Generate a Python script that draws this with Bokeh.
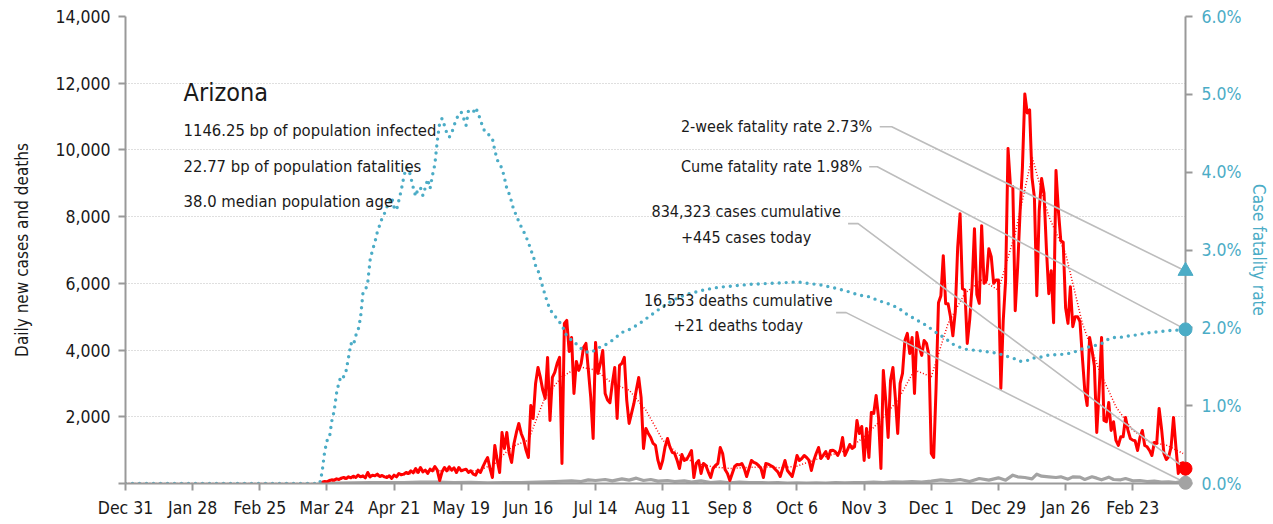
import pandas as pd
from bokeh.plotting import figure
from bokeh.models import (Range1d, LinearAxis, FixedTicker, NumeralTickFormatter,
                          PrintfTickFormatter, Label)
from bokeh.embed import file_html
from bokeh.resources import INLINE

START = pd.Timestamp("2019-12-31")


def day(n):
    return (START + pd.Timedelta(days=float(n))).to_pydatetime()


# ---------------- data ----------------
STATE = "Arizona"
CASES_FIRST_DAY = 81  # days after 2019-12-31 (Mar 21, 2020)
daily_cases = [
    30, 40, 60, 50, 90, 110, 100, 140, 120, 160, 180, 150, 200, 170, 220, 180, 250, 200, 230, 170,
    330, 200, 250, 230, 280, 210, 240, 200, 180, 230, 150, 250, 200, 300, 260, 280, 330, 300, 380, 320,
    450, 330, 480, 350, 400, 300, 430, 380, 510, 400, 90, 350, 480, 380, 500, 400, 470, 330, 480, 380,
    410, 430, 330, 380, 280, 250, 400,
    330, 500, 650, 780, 450, 180, 1140, 700, 330, 1530, 1050, 1530, 900, 630, 1200, 1530, 1800, 1500,
    1320, 1000, 780, 2340, 1950, 3000, 3480, 3180, 2800, 2550, 3780, 1890, 3180, 3330, 3600, 3780,
    600, 4800, 4890, 3960, 4380, 2700, 3660, 3390, 3600, 4080, 4200, 3400, 2580, 1350, 4230, 3300,
    3600, 3990, 2700, 2500, 2420, 3000, 3480, 1950, 3540, 3600, 3780, 2500, 1800, 2100, 2400, 2800,
    3180, 2580, 1050, 1650, 1500, 1380, 1200, 1140, 700, 450,
    690, 1100, 1350, 1100, 930, 900, 700, 450, 870, 690, 720, 850, 990, 180, 600, 690, 300, 600, 540,
    350, 180, 450, 540, 600, 1080, 900, 420, 300, 90, 300, 510, 570, 560, 600, 450, 210, 450, 690,
    630, 600, 540, 450, 180, 600, 580, 540, 500, 420, 350, 210, 450, 690, 390, 300, 210, 500, 840,
    690, 750, 840, 780, 700, 390, 690, 900, 1080, 750, 850, 960, 750, 990, 1000, 950, 840, 1000, 1380,
    840, 1000, 1170, 1050,
    1100, 1890, 1500, 1710, 690, 1650, 780, 2130, 2100, 2640, 1980, 450, 3390, 2490, 1380, 3090, 3480,
    2580, 1500, 3000, 3300, 4290, 4500, 3900, 4380, 2700, 4530, 4110, 3840, 4290, 4200, 3840, 900,
    780, 2880, 5420, 5630, 6830, 5390, 5390, 5000, 4430, 5150, 7070, 8090, 5840, 5800, 4200, 4900,
    5900, 7640, 5660, 5400, 7730, 6000, 6100, 7040, 6800, 6000, 6100, 6100, 2850, 4880, 6100, 10040,
    8930, 8900, 5180, 6470, 8100, 9470, 11680, 11110, 11200, 9170, 8570, 5630, 8180, 9140, 8700, 7040,
    5690, 6380, 4820, 9380, 8180, 7280, 7230, 5270, 4800, 5900, 4700, 5000, 5000, 4850, 3780, 2790,
    2340, 4380, 4000, 3530, 1530, 2790, 4380, 1890, 1850, 2430, 1590, 1850, 1290, 1140, 1400, 1400,
    1980, 1600, 1350, 1300, 1280, 990, 1380, 1590, 1140, 1100, 990, 840, 1230, 1200, 2250, 1650, 900,
    720, 800, 1100, 1980, 1100, 300, 600, 620, 445,
]

avg_days = [0, 81, 84, 91, 98, 105, 112, 119, 126, 133, 140, 147, 154, 161, 168, 175, 182, 189, 196,
            203, 210, 217, 224, 231, 238, 245, 252, 259, 266, 273, 280, 287, 294, 301, 308, 315, 322,
            329, 336, 343, 350, 357, 364, 371, 378, 385, 392, 399, 406, 413, 420, 427, 434, 441]
avg_cases = [0, 0, 50, 140, 190, 230, 220, 300, 380, 380, 400, 380, 600, 1100, 1300, 2600, 3200, 3500,
             3400, 3000, 2800, 2200, 1300, 850, 600, 500, 450, 480, 500, 470, 520, 700, 850, 1000,
             1400, 1900, 2500, 3400, 3200, 4800, 5700, 6100, 5800, 7500, 9800, 8000, 6900, 4800, 3400,
             2300, 1600, 1250, 1150, 900]

death_days = [81, 88, 95, 102, 109, 116, 123, 130, 137, 144, 151, 158, 165, 172, 179, 186, 190, 193,
              196, 200, 203, 207, 210, 213, 216, 219, 222, 226, 229, 233, 236, 240, 244, 248, 252,
              256, 260, 264, 268, 272, 276, 280, 284, 288, 292, 296, 300, 304, 308, 312, 316, 320,
              324, 328, 332, 336, 340, 344, 348, 352, 356, 360, 364, 367, 370, 372, 375, 378, 380,
              382, 385, 388, 390, 393, 395, 398, 400, 403, 405, 407, 410, 412, 415, 417, 420, 423,
              426, 429, 432, 435, 438, 440, 442]
daily_deaths = [0, 10, 20, 25, 30, 30, 40, 40, 30, 35, 20, 25, 30, 40, 60, 80, 60, 110, 90, 120, 80,
                140, 100, 160, 90, 120, 70, 90, 60, 80, 40, 80, 30, 50, 20, 40, 25, 30, 20, 25, 15,
                20, 10, 20, 15, 25, 20, 30, 25, 40, 30, 50, 40, 60, 40, 70, 110, 80, 120, 60, 150,
                100, 170, 100, 250, 200, 180, 140, 280, 220, 200, 180, 200, 130, 200, 190, 120, 200,
                160, 110, 190, 120, 110, 150, 80, 90, 60, 70, 40, 50, 30, 60, 21]

cfr_days = [0, 81, 82, 83, 84, 85, 86, 87, 88, 89, 90, 91, 92, 93, 94, 95, 96, 97, 98, 99, 100, 101,
            102, 103, 104, 105, 106, 107, 108, 109, 110, 111, 112, 113, 114, 115, 116, 117, 118, 119,
            120, 121, 122, 123, 124, 125, 126, 127, 128, 129, 130, 131, 132, 133, 134, 135, 136, 137,
            138, 139, 140, 141, 142, 143, 144, 145, 146, 147, 148, 149, 150, 151, 152, 153, 154, 155,
            156, 157, 158, 159, 160, 161, 162, 163, 164, 165, 166, 167, 168, 169, 170, 171, 172, 173,
            174, 175, 176, 177, 178, 179, 180, 181, 182, 183, 184, 185, 187, 189, 191, 193, 195, 197,
            200, 203, 207, 211, 215, 219, 223, 228, 233, 240, 247, 254, 261, 268, 275, 280, 285, 290,
            296, 302, 306, 310, 314, 318, 322, 326, 330, 334, 338, 342, 345, 348, 351, 355, 360, 364,
            366, 369, 371, 373, 376, 378, 381, 385, 391, 395, 398, 401, 404, 406, 408, 410, 413, 416,
            419, 422, 425, 428, 431, 434, 437, 440, 442]
cfr_pct = [0, 0, 0.15, 0.40, 0.55, 0.58, 0.80, 0.93, 1.16, 1.30, 1.39, 1.37, 1.45, 1.62, 1.80, 1.77,
           1.90, 1.97, 2.13, 2.44, 2.48, 2.58, 2.87, 3.00, 3.10, 3.23, 3.32, 3.41, 3.47, 3.55, 3.62,
           3.68, 3.55, 3.51, 3.64, 3.77, 3.93, 4.06, 4.05, 3.93, 3.80, 3.69, 3.79, 3.80, 3.70, 3.80,
           3.91, 3.79, 3.96, 4.10, 4.40, 4.63, 4.69, 4.60, 4.50, 4.45, 4.50, 4.60, 4.68, 4.75, 4.77,
           4.69, 4.60, 4.79, 4.78, 4.77, 4.83, 4.76, 4.67, 4.58, 4.51, 4.49, 4.47, 4.43, 4.28, 4.16,
           4.10, 4.05, 3.93, 3.79, 3.72, 3.62, 3.50, 3.45, 3.36, 3.30, 3.24, 3.17, 3.10, 3.00, 2.93,
           2.80, 2.74, 2.63, 2.52, 2.42, 2.32, 2.24, 2.19, 2.16, 2.10, 2.07, 2.05, 1.95, 1.90, 1.86,
           1.83, 1.75, 1.72, 1.68, 1.70, 1.74, 1.78, 1.84, 1.94, 1.99, 2.07, 2.16, 2.25, 2.35, 2.42,
           2.48, 2.52, 2.54, 2.56, 2.57, 2.58, 2.59, 2.57, 2.55, 2.51, 2.46, 2.42, 2.40, 2.35, 2.31,
           2.26, 2.17, 2.10, 2.03, 1.94, 1.86, 1.79, 1.75, 1.72, 1.71, 1.69, 1.67, 1.65, 1.62, 1.60,
           1.57, 1.58, 1.61, 1.62, 1.65, 1.66, 1.68, 1.72, 1.75, 1.77, 1.79, 1.81, 1.86, 1.88, 1.88,
           1.90, 1.91, 1.93, 1.94, 1.95, 1.96, 1.97, 1.97, 1.98]

two_week_cfr = 2.73
cume_cfr = 1.98
cases_cumulative = "834,323"
cases_today = 445
deaths_cumulative = "16,553"
deaths_today = 21

info_lines = ["1146.25 bp of population infected",
              "22.77 bp of population fatalities",
              "38.0 median population age"]

x_tick_labels = ["Dec 31", "Jan 28", "Feb 25", "Mar 24", "Apr 21", "May 19", "Jun 16", "Jul 14",
                 "Aug 11", "Sep 8", "Oct 6", "Nov 3", "Dec 1", "Dec 29", "Jan 26", "Feb 23"]
x_tick_days = [0, 28, 56, 84, 112, 140, 168, 196, 224, 252, 280, 308, 336, 364, 392, 420]
y_ticks = [0, 2000, 4000, 6000, 8000, 10000, 12000, 14000]
cfr_ticks = [0, 1, 2, 3, 4, 5, 6]

# ---------------- styling ----------------
FONT = "'DejaVu Sans Condensed', 'Liberation Sans Narrow', sans-serif"
RED = "#ff0000"
TEAL = "#4bacc6"
GRAY = "#a3a3a3"
AXIS = "#999999"
LEADER = "#bdbdbd"
TXT = "#1a1a1a"

last_day = CASES_FIRST_DAY + len(daily_cases) - 1
case_dates = [day(CASES_FIRST_DAY + i) for i in range(len(daily_cases))]

YMAX = 14000
CFRMAX = 6
p = figure(width=1273, height=524, x_axis_type="datetime",
           x_range=Range1d(day(0), day(last_day)), y_range=Range1d(0, YMAX),
           output_backend="svg", toolbar_location=None,
           min_border_left=125, min_border_right=88, min_border_top=16, min_border_bottom=41)
p.outline_line_color = None
p.background_fill_color = "white"
p.border_fill_color = "white"
p.extra_y_ranges = {"cfr": Range1d(0, CFRMAX)}

p.xgrid.visible = False
p.ygrid.ticker = FixedTicker(ticks=y_ticks)
p.ygrid.grid_line_color = "#bfbfbf"
p.ygrid.grid_line_dash = "1 2"
p.ygrid.grid_line_width = 1.2

# left axis
ly = p.yaxis[0]
ly.ticker = FixedTicker(ticks=y_ticks)
ly.formatter = NumeralTickFormatter(format="0,0")
ly.major_label_overrides = {0: ""}
ly.axis_label = "Daily new cases and deaths"
# bottom axis
bx = p.xaxis[0]
bx.ticker = FixedTicker(ticks=[pd.Timestamp(day(d)).value / 1e6 for d in x_tick_days])
bx.major_label_overrides = {pd.Timestamp(day(d)).value / 1e6: lab
                            for d, lab in zip(x_tick_days, x_tick_labels)}
# right axis
ry = LinearAxis(y_range_name="cfr", ticker=FixedTicker(ticks=cfr_ticks),
                formatter=PrintfTickFormatter(format="%.1f%%"), axis_label="Case fatality rate")
p.add_layout(ry, "right")

for ax in (ly, bx, ry):
    ax.axis_line_color = AXIS
    ax.axis_line_width = 2
    ax.major_tick_line_color = AXIS
    ax.major_tick_line_width = 2
    ax.major_tick_out = 7
    ax.major_tick_in = 0
    ax.minor_tick_line_color = None
    ax.major_label_text_font = FONT
    ax.major_label_text_font_size = "17.5px"
    ax.major_label_text_color = TXT
    ax.major_label_standoff = 8
    ax.axis_label_text_font = FONT
    ax.axis_label_text_font_size = "17px"
    ax.axis_label_text_font_style = "normal"
    ax.axis_label_text_color = TXT
ly.axis_label_standoff = 20
ry.major_label_text_color = TEAL
ry.axis_label_text_color = TEAL
ry.major_label_standoff = 9
ry.axis_label_standoff = 5
bx.major_label_standoff = 7

# ---------------- series ----------------
p.line([day(d) for d in death_days], daily_deaths, line_color=GRAY, line_width=3.2, line_join="round")
p.line(case_dates, daily_cases, line_color=RED, line_width=3, line_join="round")
p.line([day(d) for d in avg_days], avg_cases, line_color=RED, line_width=1.5, line_dash="1 2")
p.line([day(d) for d in cfr_days], cfr_pct, y_range_name="cfr", line_color=TEAL, line_width=3.4,
       line_dash="0 7", line_cap="round")

# ---------------- annotations ----------------
K = YMAX / CFRMAX  # left units per percent


def lab(x, y, text, size="16px", align="left"):
    p.add_layout(Label(x=day(x), y=y, text=text, text_font=FONT, text_font_size=size,
                       text_color=TXT, text_align=align, text_baseline="middle"))


lab(24.2, 11714, STATE, size="25px")
for i, t in enumerate(info_lines):
    lab(24.2, [10576, 9497, 8449][i], t, size="16.5px")

lab(311.4, 10696, f"2-week fatality rate {two_week_cfr:.2f}%", align="right")
lab(307.2, 9497, f"Cume fatality rate {cume_cfr:.2f}%", align="right")
lab(258.8, 8149, f"{cases_cumulative} cases cumulative", align="center")
lab(258.8, 7370, f"+{cases_today} cases today", align="center")
lab(255.5, 5483, f"{deaths_cumulative} deaths cumulative", align="center")
lab(255.5, 4734, f"+{deaths_today} deaths today", align="center")

leaders = [
    ((314.5, 10696), (319.5, 10696), two_week_cfr * K),
    ((310.1, 9497), (313.5, 9497), cume_cfr * K),
    ((301.3, 7790), (305.5, 7790), daily_cases[-1]),
    ((296.3, 5123), (300.5, 5123), daily_deaths[-1]),
]
for a, b, yend in leaders:
    p.line([day(a[0]), day(b[0]), day(last_day)], [a[1], b[1], yend], line_color=LEADER,
           line_width=1.6)

p.scatter([day(last_day)], [two_week_cfr], y_range_name="cfr", marker="triangle", size=15,
          fill_color=TEAL, line_color=TEAL, level="overlay")
p.scatter([day(last_day)], [cume_cfr], y_range_name="cfr", marker="circle", size=13,
          fill_color=TEAL, line_color=TEAL, level="overlay")
p.scatter([day(last_day)], [daily_cases[-1]], marker="circle", size=13,
          fill_color=RED, line_color=RED, level="overlay")
p.scatter([day(last_day)], [daily_deaths[-1]], marker="circle", size=13,
          fill_color=GRAY, line_color=GRAY, level="overlay")

open("out.html", "w").write(file_html(p, INLINE))
